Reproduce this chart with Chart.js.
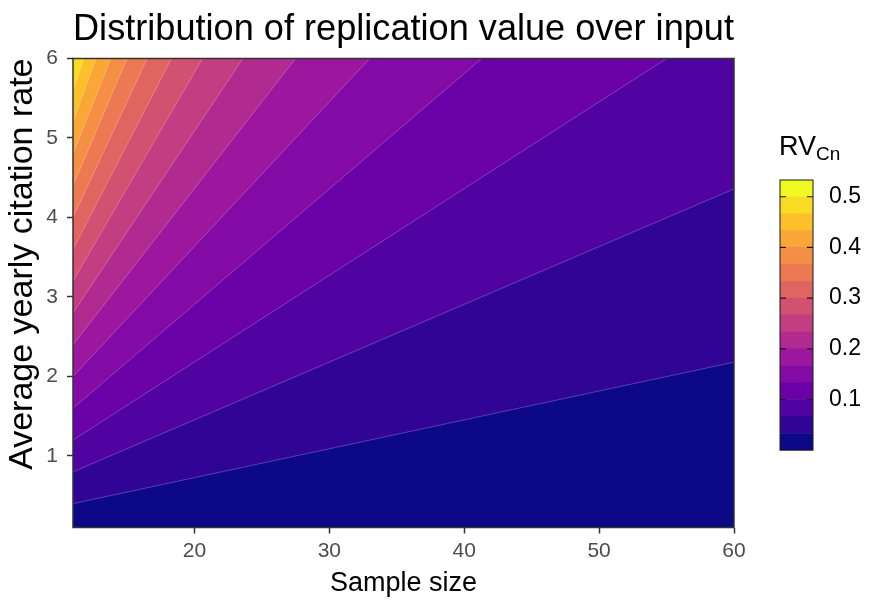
<!DOCTYPE html>
<html>
<head>
<meta charset="utf-8">
<script src="https://cdn.jsdelivr.net/npm/chart.js@4"></script>
<style>
  html, body { margin: 0; padding: 0; background: #fff; }
  #wrap { position: relative; width: 870px; height: 605px; font-family: "Liberation Sans", Arial, sans-serif; }
  #main { position: absolute; left: 0; top: 0; }
  #bar { position: absolute; left: 760px; top: 150px; }
  #barTitle { position: absolute; left: 779px; top: 133px; font-size: 27px; line-height: 1; color: #000; }
  #barTitle sub { font-size: 19px; vertical-align: -5px; }
</style>
</head>
<body>
<div id="wrap">
  <canvas id="main" width="870" height="605"></canvas>
  <div id="barTitle">RV<sub>Cn</sub></div>
  <canvas id="bar" width="110" height="330"></canvas>
</div>
<script>
const sampleRange = [11, 60];
const citationRange = [0.1, 6];
const sampleTicks = [20, 30, 40, 50, 60];
const citationTicks = [1, 2, 3, 4, 5, 6];

// contour breaks of RV_Cn, read where each break line meets the panel edges
const breakStartY = [0.4, 0.8, 1.2, 1.6, 2.0, 2.4, 2.8, 3.2, 3.6, 4.0, 4.4, 4.8, 5.2, 5.6]; // at sample size 11
const breakEndX = [60, 60, 55, 41.3, 33, 27.5, 23.6, 20.6, 18.3, 16.5, 15, 13.8, 12.7, 11.8];
const breakEndY = [2.18, 4.36, 6, 6, 6, 6, 6, 6, 6, 6, 6, 6, 6, 6];

// colour steps of the legend
const rvSteps = [0, 0.033, 0.067, 0.1, 0.133, 0.167, 0.2, 0.233, 0.267, 0.3, 0.333, 0.367, 0.4, 0.433, 0.467, 0.5, 0.533];
const rvTicks = [0.1, 0.2, 0.3, 0.4, 0.5];

const plasma = ['#0D0887', '#300595', '#5003A1', '#6A01A6', '#830AA4', '#9C179E', '#B02A90', '#C23D81',
                '#D35170', '#E06561', '#ED7953', '#F58F45', '#FBA737', '#FCC02A', '#F8DC24', '#F0F921'];

Chart.defaults.font.family = '"Liberation Sans", Arial, sans-serif';

const datasets = [{
    data: [{x: sampleRange[0], y: citationRange[0]}, {x: sampleRange[1], y: citationRange[0]}],
    backgroundColor: plasma[0],
    borderWidth: 0,
    fill: 'end',
    pointRadius: 0,
    order: breakStartY.length + 1
}];
breakStartY.forEach((y0, i) => {
    datasets.push({
        data: [{x: sampleRange[0], y: y0}, {x: breakEndX[i], y: breakEndY[i]}],
        backgroundColor: plasma[i + 1],
        borderColor: 'rgba(255, 255, 255, 0.3)',
        borderWidth: 0.8,
        fill: 'end',
        pointRadius: 0,
        order: breakStartY.length - i
    });
});

const panelFrame = {
    id: 'panelFrame',
    afterDatasetsDraw(chart) {
        const {ctx, chartArea: a} = chart;
        ctx.save();
        ctx.strokeStyle = '#333';
        ctx.lineWidth = 1.5;
        ctx.strokeRect(a.left, a.top, a.right - a.left, a.bottom - a.top);
        ctx.restore();
    }
};

const axisGrid = { drawOnChartArea: false, drawTicks: true, tickLength: 6, tickWidth: 1.5, tickColor: '#333' };

new Chart(document.getElementById('main'), {
    type: 'line',
    data: { datasets: datasets },
    options: {
        responsive: false,
        animation: false,
        layout: { padding: { left: 0, right: 136, top: 0, bottom: 0 } },
        elements: { line: { tension: 0 } },
        plugins: {
            legend: { display: false },
            tooltip: { enabled: false },
            title: {
                display: true,
                text: 'Distribution of replication value over input',
                align: 'start',
                fullSize: false,
                color: '#000',
                font: { size: 36.5, weight: 'normal' },
                padding: { top: 8, bottom: 6.7 }
            }
        },
        scales: {
            x: {
                type: 'linear',
                min: sampleRange[0],
                max: sampleRange[1],
                afterBuildTicks: s => { s.ticks = sampleTicks.map(v => ({ value: v })); },
                afterFit: s => { s.height = 77.5; },
                grid: axisGrid,
                border: { display: false },
                ticks: { color: '#4D4D4D', font: { size: 21 }, padding: 5, maxRotation: 0 },
                title: { display: true, text: 'Sample size', color: '#000', font: { size: 27 }, padding: { top: 0, bottom: 5 } }
            },
            y: {
                min: citationRange[0],
                max: citationRange[1],
                afterBuildTicks: s => { s.ticks = citationTicks.map(v => ({ value: v })); },
                afterFit: s => { s.width = 73; },
                grid: axisGrid,
                border: { display: false },
                ticks: { color: '#4D4D4D', font: { size: 21 }, padding: 9 },
                title: { display: true, text: 'Average yearly citation rate', align: 'end', color: '#000', font: { size: 34 }, padding: { top: 2, bottom: 0 } }
            }
        }
    },
    plugins: [panelFrame]
});

const colorbarTicks = {
    id: 'colorbarTicks',
    afterDatasetsDraw(chart) {
        const {ctx, chartArea: a, scales: {y}} = chart;
        ctx.save();
        ctx.strokeStyle = '#1a1a1a';
        ctx.lineWidth = 1.2;
        rvTicks.forEach(v => {
            const py = y.getPixelForValue(v);
            ctx.beginPath();
            ctx.moveTo(a.left, py);
            ctx.lineTo(a.left + 6, py);
            ctx.moveTo(a.right - 6, py);
            ctx.lineTo(a.right, py);
            ctx.stroke();
        });
        ctx.lineWidth = 1;
        ctx.strokeRect(a.left, a.top, a.right - a.left, a.bottom - a.top);
        ctx.restore();
    }
};

new Chart(document.getElementById('bar'), {
    type: 'bar',
    data: {
        labels: [''],
        datasets: plasma.map((c, i) => ({
            data: [[rvSteps[i], rvSteps[i + 1]]],
            backgroundColor: c,
            grouped: false,
            barPercentage: 1,
            categoryPercentage: 1
        }))
    },
    options: {
        responsive: false,
        animation: false,
        layout: { padding: { left: 20, top: 30, bottom: 23, right: 0 } },
        plugins: { legend: { display: false }, tooltip: { enabled: false } },
        scales: {
            x: { display: false },
            y: {
                position: 'right',
                min: rvSteps[0],
                max: rvSteps[rvSteps.length - 1],
                afterBuildTicks: s => { s.ticks = rvTicks.map(v => ({ value: v })); },
                afterFit: s => { s.width = 57; },
                grid: { display: false, drawTicks: false },
                border: { display: false },
                ticks: { color: '#000', font: { size: 23 }, padding: 16, callback: v => v.toFixed(1) }
            }
        }
    },
    plugins: [colorbarTicks]
});
</script>
</body>
</html>
